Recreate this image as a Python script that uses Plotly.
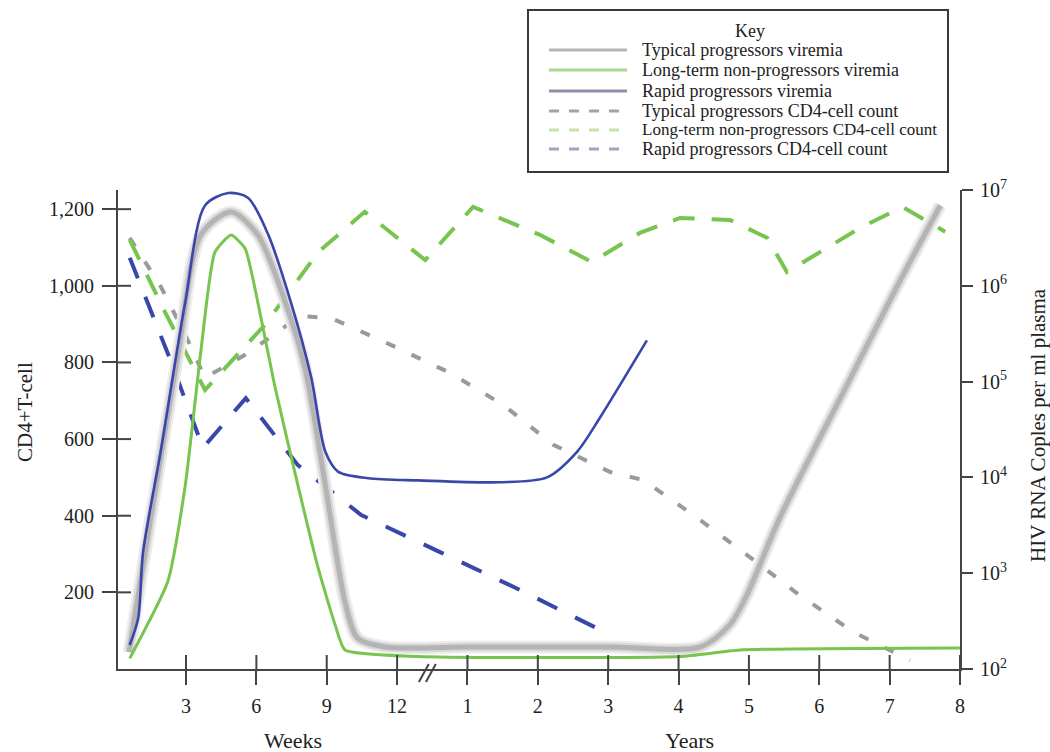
import math
import plotly.graph_objects as go

# ---------------- axis ticks ----------------
# x positions: 1..4 -> weeks 3, 6, 9, 12 ; 5..12 -> years 1..8
X_TICK_POS = [1, 2, 3, 4, 5, 6, 7, 8, 9, 10, 11, 12]
X_TICK_TEXT = ["3", "6", "9", "12", "1", "2", "3", "4", "5", "6", "7", "8"]
BREAK_POS = 4.43
CD4_TICKS = [200, 400, 600, 800, 1000, 1200]
CD4_TICK_TEXT = ["200", "400", "600", "800", "1,000", "1,200"]
RNA_TICKS = [1e2, 1e3, 1e4, 1e5, 1e6, 1e7]
RNA_TICK_TEXT = ["10<sup>2</sup>", "10<sup>3</sup>", "10<sup>4</sup>",
                 "10<sup>5</sup>", "10<sup>6</sup>", "10<sup>7</sup>"]

# ---------------- viremia (copies per ml plasma) ----------------
typ_vir_x = [0.19, 0.50, 0.89, 1.21, 1.64, 2.02, 2.41, 2.69, 2.98, 3.26, 3.44, 3.83,
             5.0, 6.0, 7.0, 8.31, 8.73, 8.97, 9.44, 10.39, 11.11, 11.72]
typ_vir_y = [150, 3800, 200000, 3400000, 5900000, 3400000, 680000, 140000, 8300, 500,
             210, 170, 170, 170, 170, 170, 290, 590, 3800, 91000, 1000000, 6900000]

ltnp_vir_x = [0.20, 0.74, 0.99, 1.21, 1.41, 1.64, 1.84, 2.02, 2.26, 2.59, 2.88, 3.12,
              3.26, 4.30, 8.02, 8.87, 12.0]
ltnp_vir_y = [129, 813, 8300, 204000, 2240000, 3390000, 2450000, 676000, 91000, 8300,
              1120, 288, 158, 135, 135, 158, 166]

rap_vir_x = [0.20, 0.32, 0.39, 0.64, 0.99, 1.27, 1.60, 1.88, 2.17, 2.49, 2.78, 2.98,
             3.16, 3.59, 4.30, 5.46, 6.13, 6.56, 6.88, 7.55]
rap_vir_y = [178, 339, 1660, 18600, 676000, 6900000, 9300000, 8300000, 3400000, 676000,
             110000, 18600, 11500, 9800, 9300, 8900, 10000, 18600, 41700, 269000]

# ---------------- CD4+ T-cell counts ----------------
typ_cd4_x = [0.20, 0.63, 0.99, 1.27, 1.84, 2.62, 3.06, 3.91, 4.75, 5.51, 6.22, 7.03,
             7.50, 8.21, 8.97, 9.68, 10.48, 11.29]
typ_cd4_y = [1125, 1002, 872, 760, 820, 921, 916, 846, 773, 689, 585, 514,
             493, 402, 298, 198, 97, 23]

ltnp_cd4_x = [0.20, 0.70, 1.27, 2.12, 2.88, 3.54, 4.40, 5.08, 6.03, 6.77, 7.45, 8.02,
              8.73, 9.26, 9.54, 10.58, 11.18, 11.79]
ltnp_cd4_y = [1120, 932, 728, 898, 1088, 1193, 1067, 1206, 1133, 1062, 1138, 1177,
              1172, 1125, 1036, 1151, 1206, 1141]

rap_cd4_x = [0.20, 0.79, 1.24, 1.85, 2.59, 3.49, 4.61, 5.75, 7.03]
rap_cd4_y = [1073, 801, 577, 707, 532, 402, 305, 206, 89]

LEGEND_LABELS = ["Typical progressors viremia",
                 "Long-term non-progressors viremia",
                 "Rapid progressors viremia",
                 "Typical progressors CD4-cell count",
                 "Long-term non-progressors CD4-cell count",
                 "Rapid progressors CD4-cell count"]

GREEN = "#77c44e"
BLUE = "#3a47aa"
GRAY = "#9a9a9a"
AX = "#444444"
SERIF = "Liberation Serif"
TXT = "#222222"

# geometry in window pixels (page body margin removed below)
PL, PR, PT, PB = 118, 960, 190, 669          # plot area edges
PW, PH = PR - PL, PB - PT
W, H = 1050, 752
L, T = PL, PT
R, B = W - L - PW, H - T - PH


def xp(px):
    return (px - PL) / PW


def yp(py):
    return (PB - py) / PH


fig = go.Figure()

# typical progressors viremia: thick blurred grey band
for w, c in [(13, "#eeeeee"), (9, "#d8d8d8"), (5, "#b4b4b4")]:
    fig.add_trace(go.Scatter(x=typ_vir_x, y=typ_vir_y, yaxis="y2", mode="lines",
                             line=dict(color=c, width=w, shape="spline", smoothing=0.8),
                             showlegend=False, hoverinfo="skip"))

fig.add_trace(go.Scatter(x=typ_cd4_x, y=typ_cd4_y, mode="lines",
                         line=dict(color=GRAY, width=4, dash="10px,18px"),
                         showlegend=False))
fig.add_trace(go.Scatter(x=ltnp_cd4_x, y=ltnp_cd4_y, mode="lines",
                         line=dict(color=GREEN, width=4, dash="22px,17px"),
                         showlegend=False))
fig.add_trace(go.Scatter(x=rap_cd4_x, y=rap_cd4_y, mode="lines",
                         line=dict(color=BLUE, width=4, dash="22px,20px"),
                         showlegend=False))

fig.add_trace(go.Scatter(x=ltnp_vir_x, y=ltnp_vir_y, yaxis="y2", mode="lines",
                         line=dict(color=GREEN, width=3, shape="spline", smoothing=0.5),
                         showlegend=False))
fig.add_trace(go.Scatter(x=rap_vir_x, y=rap_vir_y, yaxis="y2", mode="lines",
                         line=dict(color=BLUE, width=2.6, shape="spline", smoothing=0.8),
                         showlegend=False))

shapes = []
# inner halves of the tick crosses
for v in X_TICK_POS:
    shapes.append(dict(type="line", xref="x", yref="paper", x0=v, x1=v,
                       y0=0, y1=14 / PH, line=dict(color=AX, width=2)))
for v in CD4_TICKS:
    shapes.append(dict(type="line", xref="paper", yref="y", x0=0, x1=13 / PW,
                       y0=v, y1=v, line=dict(color=AX, width=2)))
for v in RNA_TICKS:
    shapes.append(dict(type="line", xref="paper", yref="y2", x0=1 - 12 / PW, x1=1,
                       y0=math.log10(v), y1=math.log10(v), line=dict(color=AX, width=2)))
# axis break marks "//"
for dx in (-0.05, 0.05):
    shapes.append(dict(type="line", xref="x", yref="paper",
                       x0=BREAK_POS + dx - 0.07, x1=BREAK_POS + dx + 0.07,
                       y0=-13 / PH, y1=5 / PH, line=dict(color=AX, width=2)))

# legend box
shapes.append(dict(type="rect", xref="paper", yref="paper",
                   x0=xp(528), x1=xp(948), y0=yp(172), y1=yp(10),
                   line=dict(color="#3a3a3a", width=2), fillcolor="white"))
legend_rows = [50, 70, 91, 111, 130, 149]
legend_sizes = [18, 18, 18, 18, 17, 18]
legend_styles = [("#b5b5b5", "solid"), ("#a9d890", "solid"), ("#8b92aa", "solid"),
                 ("#a3a3a3", "10px,10px"), ("#c6e2ae", "10px,10px"), ("#9ea4c4", "10px,10px")]
annotations = [dict(text="Key", x=xp(750), y=yp(31), xref="paper", yref="paper",
                    xanchor="center", yanchor="middle", showarrow=False,
                    font=dict(family=SERIF, size=18, color=TXT))]
for row, sz, (col, dash), lab in zip(legend_rows, legend_sizes, legend_styles, LEGEND_LABELS):
    shapes.append(dict(type="line", xref="paper", yref="paper",
                       x0=xp(549), x1=xp(627), y0=yp(row), y1=yp(row),
                       line=dict(color=col, width=3, dash=dash)))
    annotations.append(dict(text=lab, x=xp(640), y=yp(row), xref="paper", yref="paper",
                            xanchor="left", yanchor="middle", showarrow=False,
                            font=dict(family=SERIF, size=sz, color=TXT)))

# axis titles
annotations += [
    dict(text="CD4+T-cell", x=xp(25), y=yp(412), xref="paper", yref="paper",
         xanchor="center", yanchor="middle", textangle=-90, showarrow=False,
         font=dict(family=SERIF, size=21, color=TXT)),
    dict(text="HIV RNA Coples per ml plasma", x=xp(1038), y=yp(425), xref="paper",
         yref="paper", xanchor="center", yanchor="middle", textangle=-90,
         showarrow=False, font=dict(family=SERIF, size=21, color=TXT)),
    dict(text="Weeks", x=xp(293), y=yp(740), xref="paper", yref="paper",
         xanchor="center", yanchor="middle", showarrow=False,
         font=dict(family=SERIF, size=22, color=TXT)),
    dict(text="Years", x=xp(689), y=yp(740), xref="paper", yref="paper",
         xanchor="center", yanchor="middle", showarrow=False,
         font=dict(family=SERIF, size=22, color=TXT)),
]

tickfont = dict(family=SERIF, size=20, color=TXT)
fig.update_layout(
    width=W, height=H,
    margin=dict(l=L, r=R, t=T, b=B, autoexpand=False),
    paper_bgcolor="white", plot_bgcolor="white",
    showlegend=False,
    xaxis=dict(range=[0.0335, 12.0], tickvals=X_TICK_POS, ticktext=X_TICK_TEXT,
               ticks="outside", ticklen=14, tickwidth=2, tickcolor=AX,
               ticklabelstandoff=4,
               showline=True, linecolor=AX, linewidth=2, showgrid=False, zeroline=False,
               tickfont=tickfont),
    yaxis=dict(range=[0, 1250], tickvals=CD4_TICKS, ticktext=CD4_TICK_TEXT,
               ticks="outside", ticklen=14, tickwidth=2, tickcolor=AX,
               ticklabelstandoff=4,
               showline=True, linecolor=AX, linewidth=2, showgrid=False, zeroline=False,
               tickfont=tickfont),
    yaxis2=dict(type="log", range=[2, 7], overlaying="y", side="right",
                tickvals=RNA_TICKS, ticktext=RNA_TICK_TEXT,
                ticks="outside", ticklen=11, tickwidth=2, tickcolor=AX,
                ticklabelstandoff=3,
                showline=True, linecolor=AX, linewidth=2, showgrid=False, zeroline=False,
                tickfont=tickfont),
    shapes=shapes,
    annotations=annotations,
)

fig.write_html("out.html",
               config={"displayModeBar": False},
               post_script="document.body.style.margin='0';"
                           "document.body.style.overflow='hidden';")
